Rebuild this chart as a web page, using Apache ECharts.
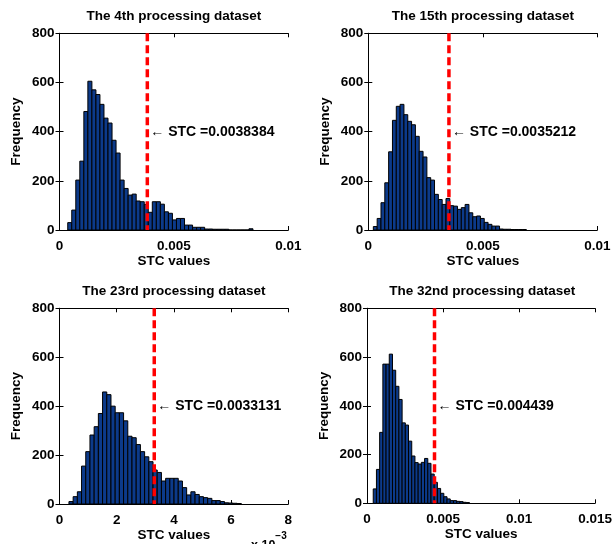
<!DOCTYPE html>
<html>
<head>
<meta charset="utf-8">
<script src="https://cdn.jsdelivr.net/npm/echarts@6/dist/echarts.min.js"></script>
<style>
html,body{margin:0;padding:0;background:#fff;}
#chart{width:615px;height:544px;}
</style>
</head>
<body>
<div id="chart"></div>
<script>
// ---- data ----
const panelTitles = ['The 4th processing dataset', 'The 15th processing dataset', 'The 23rd processing dataset', 'The 32nd processing dataset'];
const stcValues = [0.0038384, 0.0035212, 0.0033131, 0.004439];
const stcTexts = ['0.0038384', '0.0035212', '0.0033131', '0.004439'];
// x scale factor for axis units (panel 3 is shown in units of 10^-3)
const axisScale = [1, 1, 1000, 1];
const xMax = [0.01, 0.01, 8, 0.015];
const xInterval = [0.005, 0.005, 2, 0.005];
const yTicks = [0, 200, 400, 600, 800];

// histogram bin start and bin width (axis units)
const binStart = [0.00036, 0.00022, 0.33, 0.00041];
const binWidth = [0.000176, 0.000167, 0.147, 0.000211];

const counts1 = [30,81,203,280,482,605,570,551,511,455,435,365,313,203,169,142,146,118,115,104,72,115,115,105,74,68,41,47,47,20,20,11,11,11,4,4,3,3,3,3,0,0,0,0,0,5];
const counts2 = [14,47,111,192,318,446,503,511,469,442,428,381,320,297,213,203,145,124,104,128,99,97,84,91,104,70,54,57,47,31,23,16,16,4,3,3,2,2,2,2];
const counts3 = [10,30,50,155,214,282,316,370,458,447,400,373,373,340,277,271,243,214,193,173,139,129,94,105,105,105,94,67,37,50,39,30,26,23,14,14,10,5,4,3,2];
const counts4 = [59,139,291,571,571,612,546,480,426,330,321,255,194,167,161,168,184,164,120,86,61,41,27,18,11,11,8,7,4,3];
const allCounts = [counts1, counts2, counts3, counts4];

// ---- layout ----
const grids = [
  {left: 59.5, top: 33.3, width: 228.8, height: 196.7},
  {left: 368.3, top: 33.3, width: 229, height: 196.7},
  {left: 59.5, top: 308.3, width: 228.8, height: 195.7},
  {left: 367, top: 308.3, width: 230.5, height: 195}
];
const FONT = '"Liberation Sans", Arial, Helvetica, sans-serif';
const TXT = '#000000';

const option = {
  animation: false,
  backgroundColor: '#ffffff',
  title: [],
  grid: [],
  xAxis: [],
  yAxis: [],
  series: [],
  graphic: []
};

grids.forEach((g, i) => {
  option.grid.push({left: g.left, top: g.top, width: g.width, height: g.height, containLabel: false});
  option.title.push({
    text: panelTitles[i], left: g.left + g.width / 2, top: g.top - 24, textAlign: 'center', padding: 0,
    textStyle: {fontFamily: FONT, fontSize: 13.5, fontWeight: 'bold', color: TXT}
  });
  const common = {
    gridIndex: i, type: 'value', min: 0, max: xMax[i], interval: xInterval[i],
    axisLine: {show: true, onZero: false, lineStyle: {color: '#000', width: 1}},
    axisTick: {show: true, inside: true, length: 4, lineStyle: {color: '#000'}},
    splitLine: {show: false}
  };
  option.xAxis.push(Object.assign({}, common, {
    position: 'bottom',
    name: 'STC values', nameLocation: 'middle', nameGap: 23,
    nameTextStyle: {fontFamily: FONT, fontSize: 13.5, fontWeight: 'bold', color: TXT},
    axisLabel: {show: true, margin: 9, fontFamily: FONT, fontSize: 13.5, fontWeight: 'bold', color: TXT,
      formatter: v => String(+v.toFixed(6))}
  }));
  option.xAxis.push(Object.assign({}, common, {position: 'top', axisLabel: {show: false}}));
  const ycommon = {
    gridIndex: i, type: 'value', min: yTicks[0], max: yTicks[yTicks.length - 1], interval: yTicks[1] - yTicks[0],
    axisLine: {show: true, lineStyle: {color: '#000', width: 1}},
    axisTick: {show: true, inside: true, length: 4, lineStyle: {color: '#000'}},
    splitLine: {show: false}
  };
  option.yAxis.push(Object.assign({}, ycommon, {
    position: 'left',
    name: 'Frequency', nameLocation: 'middle', nameGap: 36, nameRotate: 90,
    nameTextStyle: {fontFamily: FONT, fontSize: 13.5, fontWeight: 'bold', color: TXT},
    axisLabel: {show: true, margin: 5, fontFamily: FONT, fontSize: 13.5, fontWeight: 'bold', color: TXT}
  }));
  option.yAxis.push(Object.assign({}, ycommon, {position: 'right', axisLabel: {show: false}}));

  const data = allCounts[i].map((c, k) => [binStart[i] + k * binWidth[i], binStart[i] + (k + 1) * binWidth[i], c]);
  option.series.push({
    type: 'custom',
    xAxisIndex: 2 * i, yAxisIndex: 2 * i,
    data: data,
    encode: {x: [0, 1], y: 2},
    silent: true,
    z: 2,
    renderItem: function (params, api) {
      const p0 = api.coord([api.value(0), 0]);
      const p1 = api.coord([api.value(1), api.value(2)]);
      return {
        type: 'rect',
        shape: {x: p0[0], y: p1[1], width: p1[0] - p0[0], height: p0[1] - p1[1]},
        style: {fill: '#0c3a8a', stroke: '#000000', lineWidth: 1}
      };
    }
  });
  const sx = stcValues[i] * axisScale[i];
  option.series.push({
    type: 'line',
    xAxisIndex: 2 * i, yAxisIndex: 2 * i,
    data: [[sx, yTicks[yTicks.length - 1]], [sx, 0]],
    symbol: 'none', silent: true, z: 5,
    lineStyle: {color: '#ff0000', width: 3.5, type: [8, 4]}
  });
  option.series.push({
    type: 'scatter',
    xAxisIndex: 2 * i, yAxisIndex: 2 * i,
    data: [[sx, 400]],
    symbolSize: 0, silent: true, z: 6,
    itemStyle: {opacity: 1},
    label: {
      show: true, position: 'right', distance: 3,
      formatter: '\u2190 STC =' + stcTexts[i],
      fontFamily: FONT, fontSize: 14, fontWeight: 'bold', color: TXT, opacity: 1
    }
  });
});

option.graphic.push({
  type: 'text', left: 251, top: 531,
  style: {
    text: '{a|x 10}{b|\u22123}',
    rich: {
      a: {fontFamily: FONT, fontSize: 12.5, fontWeight: 'bold', fill: TXT, padding: [8, 0, 0, 0]},
      b: {fontFamily: FONT, fontSize: 10, fontWeight: 'bold', fill: TXT, verticalAlign: 'top'}
    }
  }
});

const chart = echarts.init(document.getElementById('chart'), null, {renderer: 'canvas'});
chart.setOption(option);
</script>
</body>
</html>
